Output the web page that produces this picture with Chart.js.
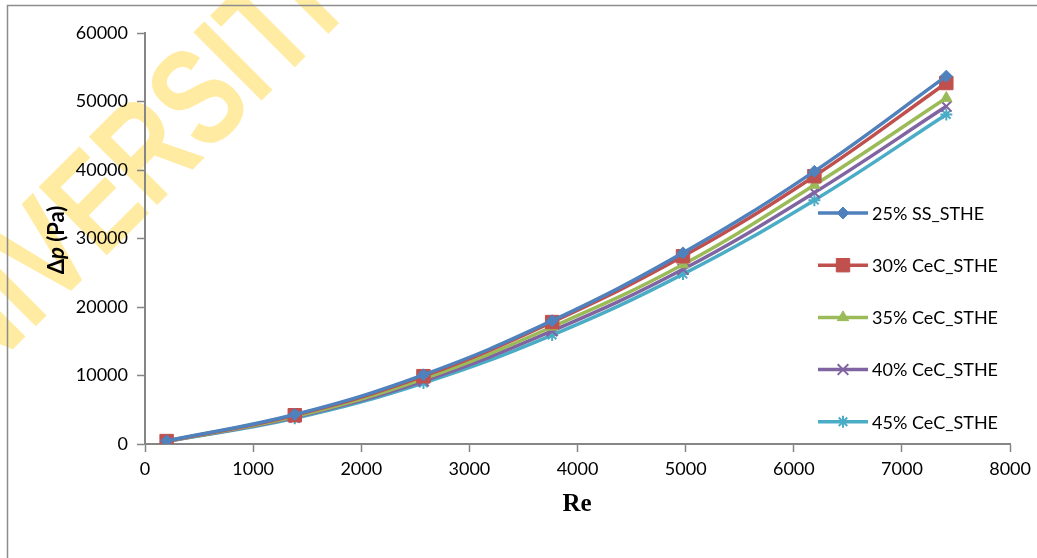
<!DOCTYPE html>
<html>
<head>
<meta charset="utf-8">
<script src="https://cdn.jsdelivr.net/npm/chart.js@4.4.1/dist/chart.umd.min.js"></script>
<style>
  html, body { margin: 0; padding: 0; background: #fff; }
  #wrap { width: 1037px; height: 558px; }
</style>
</head>
<body>
<div id="wrap"><canvas id="dpChart" width="1037" height="558"></canvas></div>
<script>
// Reynolds number (x) and pressure drop (Pa) per tube case
const reValues = [200, 1385, 2575, 3765, 4975, 6190, 7410];
const ss25 = [450, 4300, 10100, 18000, 27900, 39800, 53700];
const cec30 = [430, 4200, 9900, 17800, 27400, 39100, 52700];
const cec35 = [410, 4000, 9500, 17100, 26200, 37800, 50500];
const cec40 = [400, 3900, 9200, 16500, 25500, 36700, 49300];
const cec45 = [380, 3750, 8900, 15900, 24800, 35600, 48100];
const seriesNames = ['25% SS_STHE', '30% CeC_STHE', '35% CeC_STHE', '40% CeC_STHE', '45% CeC_STHE'];
const xTicks = [0, 8000, 1000];
const yTicks = [0, 60000, 10000];

const colors = ['#4F81BD', '#C0504D', '#9BBB59', '#8064A2', '#4BACC6'];
const markers = ['rectRot', 'rect', 'triangle', 'crossRot', 'star'];
const markerSize = [6, 9.5, 6.5, 7.5, 6];

function toPoints(vals) {
    return vals.map((v, i) => ({ x: reValues[i], y: v }));
}

const datasets = [ss25, cec30, cec35, cec40, cec45].map((vals, i) => ({
    label: seriesNames[i],
    data: toPoints(vals),
    borderColor: colors[i],
    backgroundColor: colors[i],
    pointBackgroundColor: colors[i],
    pointBorderColor: colors[i],
    pointStyle: markers[i],
    pointRadius: markerSize[i],
    pointBorderWidth: (i >= 3) ? 2 : 1,
    borderWidth: 3.5,
    tension: 0.4,
    fill: false
}));

// yellow thesis watermark behind the chart
const watermark = {
    id: 'watermark',
    beforeDraw(chart) {
        const ctx = chart.ctx;
        ctx.save();
        ctx.translate(-78, 440);
        ctx.rotate(-Math.PI / 4);
        ctx.scale(0.76, 1);
        ctx.font = 'bold 140px "Liberation Sans"';
        ctx.fillStyle = 'rgba(255, 205, 20, 0.4)';
        ctx.textBaseline = 'alphabetic';
        ctx.fillText('UNIVERSITI MALAYA', 0, 0);
        ctx.restore();
    }
};

// frame, axis titles and legend drawn by hand
const extras = {
    id: 'extras',
    afterDraw(chart) {
        const ctx = chart.ctx;
        ctx.save();
        ctx.strokeStyle = '#8c8c8c';
        ctx.lineWidth = 1.5;
        ctx.beginPath();
        ctx.moveTo(7.5, 558);
        ctx.lineTo(7.5, 5.5);
        ctx.lineTo(1037, 5.5);
        ctx.stroke();

        // x title
        ctx.fillStyle = '#000';
        ctx.font = 'bold 25px "Liberation Serif"';
        ctx.textAlign = 'center';
        ctx.textBaseline = 'middle';
        ctx.fillText('Re', 577, 505);

        // y title: Δp (Pa) with italic p
        ctx.save();
        ctx.translate(57, 240);
        ctx.rotate(-Math.PI / 2);
        const parts = [
            ['Δ', 'bold 22px Lato'],
            ['p', 'italic bold 22px Lato'],
            [' (Pa)', 'bold 22px Lato']
        ];
        let total = 0;
        parts.forEach(p => { ctx.font = p[1]; total += ctx.measureText(p[0]).width; });
        let x = -total / 2;
        ctx.textAlign = 'left';
        parts.forEach(p => {
            ctx.font = p[1];
            ctx.fillText(p[0], x, 0);
            x += ctx.measureText(p[0]).width;
        });
        ctx.restore();

        // legend
        chart.data.datasets.forEach((ds, i) => {
            const y = 213 + i * 52.2;
            ctx.strokeStyle = ds.borderColor;
            ctx.lineWidth = 3.5;
            ctx.beginPath();
            ctx.moveTo(818, y);
            ctx.lineTo(868, y);
            ctx.stroke();
            ctx.fillStyle = ds.pointBackgroundColor;
            ctx.strokeStyle = ds.pointBorderColor;
            ctx.lineWidth = ds.pointBorderWidth;
            Chart.helpers.drawPoint(ctx, { pointStyle: ds.pointStyle, radius: ds.pointRadius, rotation: 0, borderWidth: ds.pointBorderWidth }, 843, y);
            ctx.fillStyle = '#000';
            ctx.font = '18px Lato';
            ctx.textAlign = 'left';
            ctx.textBaseline = 'middle';
            ctx.fillText(ds.label, 872, y + 1);
        });
        ctx.restore();
    }
};

const plain = v => String(v);

const ctx = document.getElementById('dpChart').getContext('2d');
const dpChart = new Chart(ctx, {
    type: 'line',
    data: { datasets: datasets },
    options: {
        responsive: false,
        animation: false,
        devicePixelRatio: 1,
        layout: { padding: { left: 0, right: 25, top: 33, bottom: 0 } },
        plugins: {
            legend: { display: false },
            tooltip: { enabled: false }
        },
        scales: {
            x: {
                type: 'linear',
                min: xTicks[0],
                max: xTicks[1],
                ticks: { stepSize: xTicks[2], color: '#000', font: { family: 'Lato', size: 18 }, padding: 6, callback: plain },
                grid: { drawOnChartArea: false, color: '#868686', tickLength: 8, tickWidth: 1.5 },
                border: { color: '#868686', width: 2 },
                afterFit(scale) { scale.height = 114; }
            },
            y: {
                min: yTicks[0],
                max: yTicks[1],
                ticks: { stepSize: yTicks[2], color: '#000', font: { family: 'Lato', size: 18 }, padding: 9, callback: plain },
                grid: { drawOnChartArea: false, color: '#868686', tickLength: 8, tickWidth: 1.5 },
                border: { color: '#868686', width: 2 },
                afterFit(scale) { scale.width = 145; }
            }
        }
    },
    plugins: [watermark, extras]
});
</script>
</body>
</html>
